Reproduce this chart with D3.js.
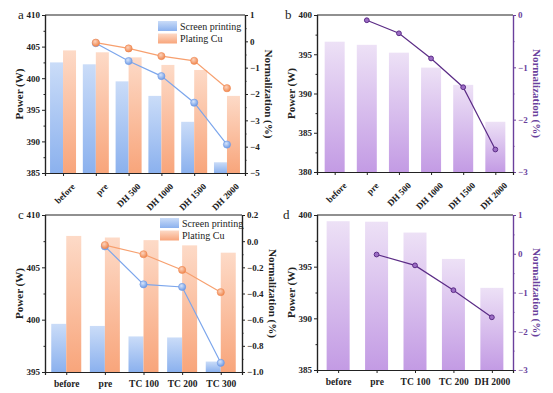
<!DOCTYPE html>
<html>
<head>
<meta charset="utf-8">
<script src="https://cdn.jsdelivr.net/npm/d3@7"></script>
<style>
  body { margin: 0; background: #fff; }
  svg { display: block; }
  text { font-family: 'Liberation Serif', 'Times New Roman', serif; }
</style>
</head>
<body>
<svg id="chart" width="553" height="393"></svg>
<script>
// categories
const catsDH = ['before', 'pre', 'DH 500', 'DH 1000', 'DH 1500', 'DH 2000'];
const catsTC = ['before', 'pre', 'TC 100', 'TC 200', 'TC 300'];
const catsD = ['before', 'pre', 'TC 100', 'TC 200', 'DH 2000'];

// panel a
const aScreenPower = [402.5, 402.2, 399.5, 397.2, 393.1, 386.7];
const aPlatingPower = [404.4, 404.1, 403.3, 402.1, 401.3, 397.2];
const aScreenNorm = [null, -0.07, -0.75, -1.32, -2.33, -3.92];
const aPlatingNorm = [null, -0.05, -0.27, -0.56, -0.74, -1.78];

// panel b
const bPower = [396.6, 396.2, 395.2, 393.3, 391.1, 386.4];
const bNorm = [null, -0.1, -0.35, -0.83, -1.38, -2.57];

// panel c
const cScreenPower = [399.6, 399.4, 398.4, 398.3, 396.0];
const cPlatingPower = [408.0, 407.85, 407.6, 407.1, 406.4];
const cScreenNorm = [null, -0.04, -0.33, -0.35, -0.93];
const cPlatingNorm = [null, -0.03, -0.10, -0.22, -0.39];

// panel d
const dPower = [399.4, 399.35, 398.3, 395.75, 392.95];
const dNorm = [null, -0.02, -0.3, -0.94, -1.64];

const legendLabels = ['Screen printing', 'Plating Cu'];

const svg = d3.select('#chart');
const defs = svg.append('defs');

function linGrad(id, top, bottom) {
    const g = defs.append('linearGradient')
        .attr('id', id)
        .attr('x1', 0).attr('y1', 0).attr('x2', 0).attr('y2', 1);
    g.append('stop').attr('offset', '0%').attr('stop-color', top);
    g.append('stop').attr('offset', '100%').attr('stop-color', bottom);
}
function radGrad(id, inner, outer) {
    const g = defs.append('radialGradient')
        .attr('id', id)
        .attr('cx', '40%').attr('cy', '35%').attr('r', '65%');
    g.append('stop').attr('offset', '0%').attr('stop-color', inner);
    g.append('stop').attr('offset', '100%').attr('stop-color', outer);
}
linGrad('gBlue', '#cadcf8', '#8bb1ee');
linGrad('gOrange', '#fddac7', '#f8a57b');
linGrad('gPurple', '#ede1f6', '#c39be4');
radGrad('mBlue', '#d6e4fb', '#6e9be6');
radGrad('mOrange', '#fcd3bd', '#f08850');

const PURPLE = '#5b2c86';
const PURPLE_AXIS = '#6a3f9c';

function drawPanel(cfg) {
    const {left, right, top, bottom} = cfg.box;
    const g = svg.append('g');

    const x = d3.scalePoint().domain(cfg.cats).range([left, right]).padding(0.55);
    const y = d3.scaleLinear().domain(cfg.yDomain).range([bottom, top]);
    const y2 = d3.scaleLinear().domain(cfg.y2Domain).range([bottom, top]);

    // bars
    const nSeries = cfg.bars.length;
    cfg.bars.forEach((s, si) => {
        const offset = nSeries === 1 ? -cfg.barW / 2 : (si === 0 ? -cfg.barW : 0);
        g.append('g').selectAll('rect')
            .data(s.values)
            .join('rect')
            .attr('x', (d, i) => x(cfg.cats[i]) + offset)
            .attr('y', d => y(d))
            .attr('width', cfg.barW)
            .attr('height', d => bottom - y(d))
            .attr('fill', `url(#${s.fill})`);
    });

    // frame top line
    g.append('line')
        .attr('x1', left).attr('x2', right)
        .attr('y1', top).attr('y2', top)
        .attr('stroke', '#222').attr('stroke-width', 1.2);

    // left axis
    const yAxis = d3.axisLeft(y).tickValues(cfg.yTicks).tickSize(3).tickPadding(2).tickFormat(d3.format('d'));
    g.append('g').attr('transform', `translate(${left},0)`).call(yAxis);
    const yMinor = d3.axisLeft(y).tickValues(cfg.yMinor).tickSize(1.5).tickFormat('');
    g.append('g').attr('transform', `translate(${left},0)`).call(yMinor);

    // right axis
    const y2Axis = d3.axisRight(y2).tickValues(cfg.y2Ticks).tickSize(3).tickPadding(2).tickFormat(cfg.y2Format);
    const y2AxisG = g.append('g').attr('transform', `translate(${right},0)`).call(y2Axis);
    const y2Minor = d3.axisRight(y2).tickValues(cfg.y2Minor).tickSize(1.5).tickFormat('');
    const y2MinorG = g.append('g').attr('transform', `translate(${right},0)`).call(y2Minor);

    // bottom axis
    const xAxis = d3.axisBottom(x).tickSize(3).tickPadding(3);
    const xAxisG = g.append('g').attr('transform', `translate(0,${bottom})`).call(xAxis);

    g.selectAll('.domain').attr('stroke', '#222').attr('stroke-width', 1.2);
    g.selectAll('.tick line').attr('stroke', '#222');
    g.selectAll('.tick text')
        .attr('font-family', "'Liberation Serif', serif")
        .attr('font-weight', 'bold')
        .attr('font-size', 9)
        .attr('fill', '#222');

    if (cfg.rightColor) {
        [y2AxisG, y2MinorG].forEach(a => {
            a.select('.domain').attr('stroke', cfg.rightColor);
            a.selectAll('.tick line').attr('stroke', cfg.rightColor);
            a.selectAll('.tick text').attr('fill', cfg.rightColor);
        });
    }

    if (cfg.rotate) {
        xAxisG.selectAll('.tick text')
            .attr('text-anchor', 'end')
            .attr('dy', '0.3em')
            .attr('transform', 'translate(6,8) rotate(-45)');
    } else {
        xAxisG.selectAll('.tick text').attr('font-size', 9.5).attr('dy', '0.95em');
    }

    // lines
    cfg.lines.forEach(s => {
        const pts = s.values.map((v, i) => [cfg.cats[i], v]).filter(p => p[1] !== null);
        const line = d3.line().x(p => x(p[0])).y(p => y2(p[1]));
        g.append('path')
            .datum(pts)
            .attr('d', line)
            .attr('fill', 'none')
            .attr('stroke', s.color)
            .attr('stroke-width', s.width);
        g.append('g').selectAll('circle')
            .data(pts)
            .join('circle')
            .attr('cx', p => x(p[0]))
            .attr('cy', p => y2(p[1]))
            .attr('r', s.r)
            .attr('fill', s.fill)
            .attr('stroke', s.stroke)
            .attr('stroke-width', s.strokeW);
    });

    // axis titles
    const midY = (top + bottom) / 2;
    g.append('text')
        .attr('transform', `translate(${left - 22},${midY}) rotate(-90)`)
        .attr('text-anchor', 'middle')
        .attr('font-weight', 'bold')
        .attr('font-size', 11)
        .attr('fill', '#222')
        .text('Power (W)');
    g.append('text')
        .attr('transform', `translate(${right + cfg.rightTitleOff},${midY}) rotate(90)`)
        .attr('text-anchor', 'middle')
        .attr('font-weight', 'bold')
        .attr('font-size', 11)
        .attr('fill', cfg.rightColor || '#222')
        .text('Normalization (%)');

    // panel letter
    g.append('text')
        .attr('x', cfg.letterX)
        .attr('y', top + 4)
        .attr('font-size', 13)
        .attr('fill', '#222')
        .text(cfg.letter);

    // legend
    if (cfg.legend) {
        const lg = g.append('g').attr('transform', `translate(${cfg.legend[0]},${cfg.legend[1]})`);
        [['gBlue', legendLabels[0]], ['gOrange', legendLabels[1]]].forEach((d, i) => {
            lg.append('rect')
                .attr('x', 0).attr('y', i * 12.5)
                .attr('width', 19).attr('height', 10)
                .attr('fill', `url(#${d[0]})`);
            lg.append('text')
                .attr('x', 22).attr('y', i * 12.5 + 8.5)
                .attr('font-size', 10)
                .attr('fill', '#222')
                .text(d[1]);
        });
    }
}

const blueLine = {color: '#7ca6ec', width: 1.2, r: 3.6, fill: 'url(#mBlue)', stroke: '#6e9be6', strokeW: 0.6};
const orangeLine = {color: '#f7a06f', width: 1.2, r: 3.6, fill: 'url(#mOrange)', stroke: '#f08850', strokeW: 0.6};
const purpleLine = {color: PURPLE, width: 1.2, r: 2.4, fill: '#9b6cc4', stroke: PURPLE, strokeW: 1};

drawPanel({
    box: {left: 45, right: 245, top: 15, bottom: 173},
    cats: catsDH, rotate: true, barW: 13,
    yDomain: [385, 410], yTicks: d3.range(385, 411, 5), yMinor: d3.range(387.5, 410, 5),
    y2Domain: [-5, 1], y2Ticks: d3.range(-5, 2, 1), y2Minor: d3.range(-4.5, 1, 1), y2Format: d3.format('d'),
    bars: [{values: aScreenPower, fill: 'gBlue'}, {values: aPlatingPower, fill: 'gOrange'}],
    lines: [Object.assign({values: aScreenNorm}, blueLine), Object.assign({values: aPlatingNorm}, orangeLine)],
    rightTitleOff: 20, letter: 'a', letterX: 18, legend: [158, 21]
});

drawPanel({
    box: {left: 317, right: 513, top: 15, bottom: 172},
    cats: catsDH, rotate: true, barW: 20,
    yDomain: [380, 400], yTicks: d3.range(380, 401, 5), yMinor: d3.range(382.5, 400, 5),
    y2Domain: [-3, 0], y2Ticks: [-3, -2, -1, 0], y2Minor: [-2.5, -1.5, -0.5], y2Format: d3.format('d'),
    bars: [{values: bPower, fill: 'gPurple'}],
    lines: [Object.assign({values: bNorm}, purpleLine)],
    rightColor: PURPLE_AXIS,
    rightTitleOff: 20, letter: 'b', letterX: 285
});

drawPanel({
    box: {left: 45, right: 242, top: 215, bottom: 372},
    cats: catsTC, rotate: false, barW: 15,
    yDomain: [395, 410], yTicks: d3.range(395, 411, 5), yMinor: d3.range(397.5, 410, 5),
    y2Domain: [-1.0, 0.2], y2Ticks: [-1.0, -0.8, -0.6, -0.4, -0.2, 0.0, 0.2],
    y2Minor: [-0.9, -0.7, -0.5, -0.3, -0.1, 0.1], y2Format: d3.format('.1f'),
    bars: [{values: cScreenPower, fill: 'gBlue'}, {values: cPlatingPower, fill: 'gOrange'}],
    lines: [Object.assign({values: cScreenNorm}, blueLine), Object.assign({values: cPlatingNorm}, orangeLine)],
    rightTitleOff: 27, letter: 'c', letterX: 18, legend: [160, 218]
});

drawPanel({
    box: {left: 317, right: 513, top: 215, bottom: 370},
    cats: catsD, rotate: false, barW: 23,
    yDomain: [385, 400], yTicks: d3.range(385, 401, 5), yMinor: d3.range(387.5, 400, 5),
    y2Domain: [-3, 1], y2Ticks: [-3, -2, -1, 0, 1], y2Minor: [-2.5, -1.5, -0.5, 0.5], y2Format: d3.format('d'),
    bars: [{values: dPower, fill: 'gPurple'}],
    lines: [Object.assign({values: dNorm}, purpleLine)],
    rightColor: PURPLE_AXIS,
    rightTitleOff: 20, letter: 'd', letterX: 283
});
</script>
</body>
</html>
